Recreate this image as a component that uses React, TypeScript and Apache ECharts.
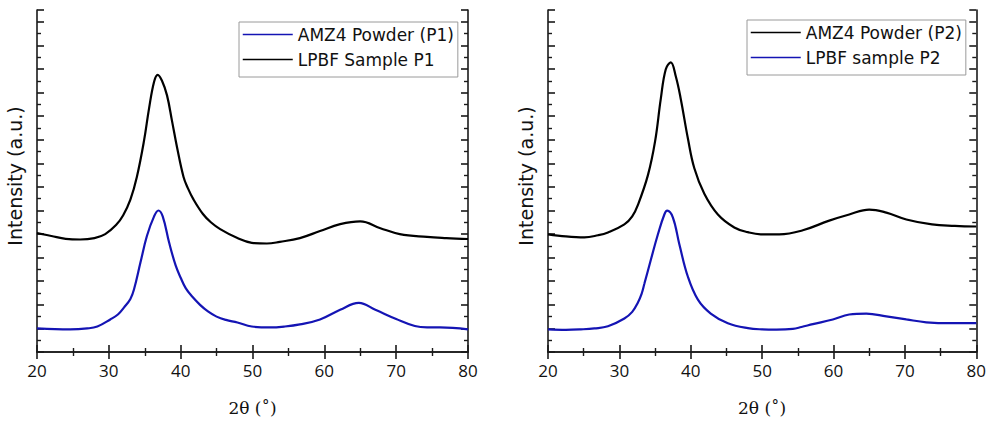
import React, { useEffect, useRef } from "react";
import * as echarts from "echarts";

// 2θ (deg) values and intensities (a.u.)
const p1PowderX = [20, 22.5, 24.6, 27, 28.4, 30.2, 31.3, 32.1, 33, 33.5, 34.4, 35.3, 36.3, 36.9, 37.5, 38.4, 39.3, 40, 40.7, 41.6, 42.7, 43.8, 45, 46.3, 47.9, 49.9, 52.4, 54.5, 56.6, 59.4, 62.2, 64.8, 67.1, 70, 72.6, 74.3, 76.1, 80];
const p1PowderY = [1.0, 0.97, 0.96, 1.0, 1.08, 1.38, 1.6, 1.88, 2.25, 2.65, 3.79, 4.92, 5.75, 6.0, 5.75, 4.63, 3.67, 3.15, 2.71, 2.35, 2.0, 1.72, 1.5, 1.36, 1.25, 1.08, 1.04, 1.08, 1.17, 1.38, 1.79, 2.08, 1.79, 1.4, 1.1, 1.04, 1.04, 0.96];

const p1SampleX = [20, 22, 24, 26, 28, 29.5, 31, 32, 33, 33.9, 34.9, 35.6, 36.3, 36.8, 37.4, 38.1, 38.8, 39.5, 40.4, 41, 41.8, 43.1, 44.2, 45.5, 47.9, 49.9, 52, 53.8, 56.6, 59.4, 62.2, 65, 67.8, 70.5, 74.3, 77, 80];
const p1SampleY = [5.04, 4.92, 4.8, 4.77, 4.83, 5.0, 5.38, 5.8, 6.46, 7.42, 8.96, 10.33, 11.46, 11.75, 11.5, 10.88, 9.79, 8.67, 7.42, 6.95, 6.46, 5.85, 5.5, 5.21, 4.83, 4.63, 4.6, 4.67, 4.83, 5.13, 5.42, 5.54, 5.25, 5.0, 4.88, 4.83, 4.79];

const p2PowderX = [20, 22.5, 25.1, 27, 28.4, 30.7, 31.8, 32.6, 34, 35, 35.8, 36.5, 37.2, 37.9, 38.6, 39.6, 40.5, 41.9, 43.8, 46.1, 48, 49.8, 52.4, 55.7, 59.4, 62.2, 65, 67.4, 70.2, 73.8, 77, 80];
const p2PowderY = [4.99, 4.9, 4.86, 4.95, 5.07, 5.41, 5.75, 6.24, 7.5, 8.93, 10.73, 11.99, 12.28, 11.69, 10.73, 9.05, 7.79, 6.71, 5.83, 5.28, 5.08, 4.99, 4.99, 5.16, 5.57, 5.83, 6.04, 5.91, 5.62, 5.41, 5.35, 5.32];

const p2SampleX = [20, 22.5, 24.6, 26.5, 28.4, 30.7, 31.8, 32.6, 33.1, 33.5, 34.4, 35.4, 36.3, 36.7, 37.5, 38.4, 39.6, 41, 42.8, 45.2, 48, 50, 52, 54.3, 55.5, 57.1, 59.9, 62.2, 64.6, 67.4, 70.2, 73, 76.5, 80];
const p2SampleY = [0.96, 0.94, 0.96, 1.0, 1.09, 1.42, 1.7, 2.1, 2.45, 2.89, 3.9, 4.99, 5.83, 5.99, 5.7, 4.57, 3.19, 2.22, 1.63, 1.22, 1.01, 0.96, 0.95, 0.98, 1.06, 1.18, 1.38, 1.59, 1.63, 1.51, 1.38, 1.26, 1.22, 1.22];

const xTicks = [20, 30, 40, 50, 60, 70, 80];
const xName = "2θ (˚)";
const yName = "Intensity (a.u.)";
const names = ["AMZ4 Powder (P1)", "LPBF Sample P1", "AMZ4 Powder (P2)", "LPBF sample P2"];

const BLUE = "#1414b4";
const BLACK = "#000000";
const FONT = "Open Sans";

const zip = (xs: number[], ys: number[]) => xs.map((x, i) => [x, ys[i]]);

export default function App() {
  const ref = useRef<HTMLDivElement>(null);
  useEffect(() => {
    if (!ref.current) return;
    const chart = echarts.init(ref.current, null, { renderer: "svg" });
    const axisLine = { show: true, lineStyle: { color: "#1a1a1a", width: 1.6 } };
    const mkX = (gi: number, pos: "bottom" | "top", labels: boolean) => ({
      type: "value",
      gridIndex: gi,
      position: pos,
      min: xTicks[0],
      max: xTicks[xTicks.length - 1],
      interval: 10,
      axisLine,
      axisTick: { show: true, inside: true, length: 7, lineStyle: { color: "#1a1a1a", width: 1.6 } },
      minorTick: { show: true, splitNumber: 2, length: 4, lineStyle: { color: "#1a1a1a", width: 1.4 } },
      splitLine: { show: false },
      axisLabel: { show: labels, fontFamily: FONT, fontSize: 17, color: "#111", margin: 10 },
      name: labels ? xName : "",
      nameLocation: "middle",
      nameGap: 47,
      nameTextStyle: { fontFamily: "DejaVu Serif", fontSize: 17, color: "#111" },
    });
    const mkY = (gi: number, pos: "left" | "right", named: boolean) => ({
      type: "value",
      gridIndex: gi,
      position: pos,
      min: 0,
      max: 14.5,
      interval: 1,
      axisLine,
      axisTick: { show: true, inside: true, length: 7, lineStyle: { color: "#1a1a1a", width: 1.6 } },
      minorTick: { show: true, splitNumber: 2, length: 4, lineStyle: { color: "#1a1a1a", width: 1.4 } },
      splitLine: { show: false },
      axisLabel: { show: false },
      name: named ? yName : "",
      nameLocation: "middle",
      nameGap: 13,
      nameTextStyle: { fontFamily: "DejaVu Sans", fontSize: 19, color: "#111", padding: [0, 0, 0, 10] },
    });
    const line = (name: string, data: number[][], color: string, xi: number, yi: number) => ({
      type: "line",
      name,
      data,
      xAxisIndex: xi,
      yAxisIndex: yi,
      showSymbol: false,
      symbol: "none",
      smooth: 0.4,
      lineStyle: { color, width: 2.2 },
      itemStyle: { color },
      emphasis: { disabled: true },
    });
    const legend = (left: number, top: number, data: string[]) => ({
      show: true,
      orient: "vertical",
      left,
      top,
      data,
      itemWidth: 50,
      itemHeight: 14,
      itemGap: 8,
      padding: [4, 4, 9, 3],
      borderColor: "#9a9a9a",
      borderWidth: 1,
      backgroundColor: "#fff",
      textStyle: { fontFamily: "DejaVu Sans", fontSize: 17, color: "#111" },
      lineStyle: { width: 1.5 },
      itemStyle: { opacity: 0 },
    });
    chart.setOption({
      animation: false,
      backgroundColor: "#fff",
      grid: [
        { left: 37, top: 10, width: 431, height: 348 },
        { left: 548, top: 10, width: 429, height: 346 },
      ],
      xAxis: [mkX(0, "bottom", true), mkX(0, "top", false), mkX(1, "bottom", true), mkX(1, "top", false)],
      yAxis: [mkY(0, "left", true), mkY(0, "right", false), mkY(1, "left", true), mkY(1, "right", false)],
      legend: [legend(239, 22, [names[0], names[1]]), legend(747, 20, [names[2], names[3]])],
      series: [
        line(names[0], zip(p1PowderX, p1PowderY), BLUE, 0, 0),
        line(names[1], zip(p1SampleX, p1SampleY), BLACK, 0, 0),
        line(names[2], zip(p2PowderX, p2PowderY), BLACK, 2, 2),
        line(names[3], zip(p2SampleX, p2SampleY), BLUE, 2, 2),
      ],
    });
    return () => chart.dispose();
  }, []);
  return (
    <div
      ref={ref}
      style={{ position: "fixed", left: 0, top: 0, width: 989, height: 421, background: "#fff" }}
    />
  );
}
